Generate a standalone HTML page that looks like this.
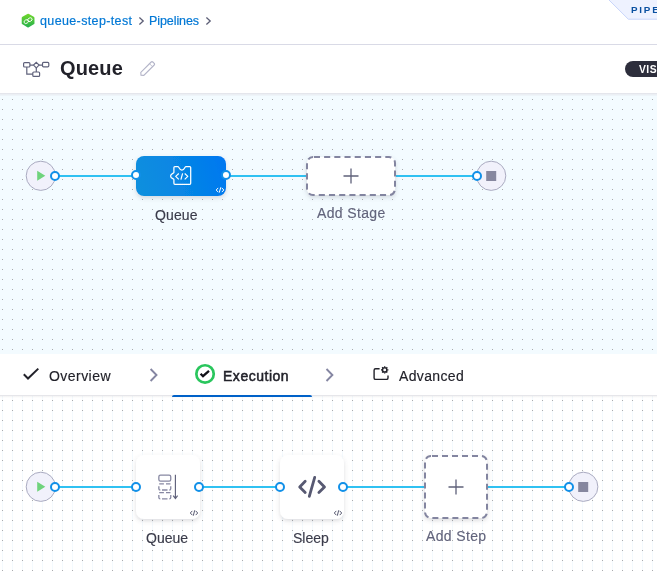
<!DOCTYPE html>
<html>
<head>
<meta charset="utf-8">
<style>
*{box-sizing:border-box;margin:0;padding:0}
html,body{width:657px;height:571px;overflow:hidden;background:#fff}
body{font-family:"Liberation Sans",sans-serif;position:relative;color:#22222a}
.abs{position:absolute}
.txt{position:absolute;white-space:nowrap;line-height:1;will-change:transform}
#c1{left:0;top:94px;width:657px;height:260px;background-color:#f3fbff;
 background-image:linear-gradient(#a9abb6,#a9abb6);background-size:1px 1px;background-repeat:no-repeat}
.dots{position:absolute;left:0;width:657px;background-image:radial-gradient(circle at 2.5px 5.5px,#a9aaad 0.62px,transparent 0.95px);background-size:10px 10px}
#hd{left:0;top:93px;width:657px;height:3px;background:linear-gradient(#e1e1e8,#ebeff4 50%,#f0f7fb)}
#c2{left:0;top:396px;width:657px;height:175px;background-color:#fff;
 background-image:linear-gradient(90deg,transparent 2px,#f4fafe 2px,#f4fafe 3px,transparent 3px);background-size:10px 10px}
.node{position:absolute;border-radius:8px}
.step{background:#fff;box-shadow:0 2px 5px rgba(96,97,112,.16),0 0 2px rgba(40,41,61,.08)}
.lbl{font-size:14px;color:#3a3b4a;-webkit-text-stroke:.15px #3a3b4a}
.lbl2{font-size:14px;color:#62647c;letter-spacing:.35px;-webkit-text-stroke:.15px #62647c}
</style>
</head>
<body>
<!-- header -->
<div class="abs" style="left:0;top:44px;width:657px;height:1px;background:#d9dae6"></div>
<svg class="abs" style="left:20.9px;top:13.1px" width="14.2" height="15.2" viewBox="0 0 14 15">
 <defs><linearGradient id="gg" x1="0" y1="0" x2="0" y2="1"><stop offset="0" stop-color="#73d82a"/><stop offset="1" stop-color="#25b04f"/></linearGradient></defs>
 <path d="M7 0.6 L12.6 3.8 Q13.3 4.2 13.3 5 L13.3 10 Q13.3 10.8 12.6 11.2 L7.7 14.1 Q7 14.5 6.3 14.1 L1.4 11.2 Q0.7 10.8 0.7 10 L0.7 5 Q0.7 4.2 1.4 3.8 L6.3 0.9 Q7 0.5 7.7 0.9Z" fill="url(#gg)"/>
 <g fill="none" stroke="#fff" stroke-width=".85"><ellipse cx="5.2" cy="8.5" rx="2.3" ry="1.7" transform="rotate(-28 5.2 8.5)"/><ellipse cx="8.8" cy="6.6" rx="2.3" ry="1.7" transform="rotate(-28 8.8 6.6)"/></g>
</svg>
<div class="txt" style="left:40px;top:14.6px;font-size:12.5px;color:#0278d5;letter-spacing:.37px;-webkit-text-stroke:.2px #0278d5">queue-step-test</div>
<svg class="abs" style="left:137px;top:15.3px" width="8" height="12" viewBox="0 0 8 12"><path d="M2.4 2.6 L6.2 6 L2.4 9.4" fill="none" stroke="#5b5d75" stroke-width="1.3"/></svg>
<div class="txt" style="left:149px;top:14.6px;font-size:12.5px;color:#0278d5;letter-spacing:-.08px;-webkit-text-stroke:.2px #0278d5">Pipelines</div>
<svg class="abs" style="left:204px;top:15.3px" width="8" height="12" viewBox="0 0 8 12"><path d="M2.4 2.6 L6.2 6 L2.4 9.4" fill="none" stroke="#5b5d75" stroke-width="1.3"/></svg>
<!-- PIPE tag -->
<svg class="abs" style="left:600px;top:0" width="57" height="22" viewBox="0 0 57 22">
 <path d="M8 -1 L28.3 19.2 L58 19.2 L58 -1Z" fill="#eef2ff" stroke="#c9d5fa" stroke-width="1"/>
</svg>
<div class="txt" style="left:630.9px;top:5.1px;font-size:9.8px;font-weight:bold;color:#0a51a1;letter-spacing:1.78px">PIPELINE</div>
<!-- title -->
<svg class="abs" style="left:22px;top:60.3px" width="29" height="19" viewBox="22 60 29 19" fill="none" stroke="#5f617b" stroke-width="1.2">
 <rect x="23.6" y="62.6" width="6.3" height="4.4" rx="1"/>
 <rect x="42.5" y="62.4" width="6.3" height="4.4" rx="1"/>
 <rect x="32.8" y="72" width="6.8" height="4.4" rx="1"/>
 <path d="M36.3 62.3 L39.1 65.1 L36.3 67.9 L33.5 65.1Z"/>
 <path d="M29.9 65.1H33.5M39.1 65.1H42.5M36.3 67.9V72M26.8 67V74.2H32.8"/>
</svg>
<div class="txt" style="left:60.3px;top:58.1px;font-size:20px;font-weight:bold;color:#22222a;letter-spacing:.15px">Queue</div>
<svg class="abs" style="left:139px;top:60px" width="18" height="18" viewBox="139 60 18 18" fill="none" stroke="#b3b4c8" stroke-width="1.1">
 <path d="M141 75.3 L140.8 72.4 L151.2 62 Q152 61.2 152.8 62 L154.2 63.4 Q155 64.2 154.2 65 L143.8 75.4Z"/>
 <path d="M149.6 63.8 L152.4 66.6" stroke-width=".8"/>
</svg>
<div class="abs" style="left:625.3px;top:60.7px;width:40px;height:16.3px;border-radius:8.2px;background:#2d2e3c"></div>
<div class="txt" style="left:639.1px;top:64.7px;font-size:10.3px;font-weight:bold;color:#fff;letter-spacing:.5px">VISUAL</div>

<!-- canvas 1 -->
<div class="abs" id="c1"></div>
<div class="dots" style="top:94px;height:260px;background-position:0 0"></div>
<div class="abs" id="hd"></div>

<!-- tabs -->
<div class="abs" style="left:0;top:354px;width:657px;height:42px;background:#fff"></div>
<div class="abs" style="left:0;top:395px;width:657px;height:1px;background:#e6e6ea"></div>
<div class="abs" id="c2"></div>
<div class="dots" style="top:396px;height:175px;background-position:0 -1px"></div>
<div class="abs" style="left:0;top:396px;width:657px;height:2px;background:linear-gradient(rgba(0,0,0,.05),rgba(0,0,0,0))"></div>
<div class="abs" style="left:172px;top:395px;width:140px;height:2px;border-radius:2px 2px 0 0;background:#0061c8"></div>

<svg class="abs" style="left:20px;top:364px" width="22" height="20" viewBox="20 364 22 20" fill="none" stroke="#22222a" stroke-width="2"><path d="M23.8 374.3 L28 378.5 L38.3 368.6"/></svg>
<div class="txt" style="left:49px;top:368.5px;font-size:14px;color:#22222a;letter-spacing:.45px;-webkit-text-stroke:.15px #22222a">Overview</div>
<svg class="abs" style="left:148px;top:366px" width="12" height="18" viewBox="148 366 12 18" fill="none" stroke="#8586a2" stroke-width="1.9"><path d="M150.6 369 L156.5 375 L150.6 381"/></svg>
<svg class="abs" style="left:193px;top:362px" width="24" height="24" viewBox="193 362 24 24" fill="none"><circle cx="205.05" cy="373.95" r="8.7" stroke="#2ac65d" stroke-width="2.7"/><path d="M200.6 373.7 L203 376.2 L209 370.8" stroke="#111118" stroke-width="2.3"/></svg>
<div class="txt" style="left:222.7px;top:368.5px;font-size:14px;color:#22222a;letter-spacing:.52px;-webkit-text-stroke:.5px #22222a">Execution</div>
<svg class="abs" style="left:324px;top:366px" width="12" height="18" viewBox="324 366 12 18" fill="none" stroke="#8586a2" stroke-width="1.9"><path d="M326.5 369 L332.4 375 L326.5 381"/></svg>
<svg class="abs" style="left:370px;top:362px" width="22" height="22" viewBox="370 362 22 22" fill="none" stroke="#22222a" stroke-width="1.4">
 <path d="M379.6 368.7 H375.6 Q374.1 368.7 374.1 370.2 V377.9 Q374.1 379.4 375.6 379.4 H386.5 Q388 379.4 388 377.9 V375.4"/>
 <circle cx="384.7" cy="369.9" r="2.2" stroke-width="1.5"/>
 <g stroke-width="1.3"><path d="M384.7 366.2V367.3M384.7 372.5V373.6M381 369.9H382.1M387.3 369.9H388.4M382.1 367.3L382.9 368.1M386.5 371.7L387.3 372.5M382.1 372.5L382.9 371.7M386.5 368.1L387.3 367.3"/></g>
</svg>
<div class="txt" style="left:399px;top:368.5px;font-size:14px;color:#22222a;letter-spacing:.35px;-webkit-text-stroke:.15px #22222a">Advanced</div>

<!-- graph svg -->
<svg class="abs" style="left:0;top:0" width="657" height="571" viewBox="0 0 657 571">
 <defs>
  <linearGradient id="bg1" gradientUnits="userSpaceOnUse" x1="140" y1="190" x2="226" y2="160"><stop offset="0" stop-color="#0b8fde"/><stop offset=".55" stop-color="#0684e6"/><stop offset="1" stop-color="#0277f1"/></linearGradient>
  <filter id="sh" x="-20%" y="-20%" width="140%" height="160%"><feDropShadow dx="0" dy="2" stdDeviation="2" flood-color="#606170" flood-opacity=".22"/></filter>
 </defs>
 <!-- top lines -->
 <g stroke="#2fc1f2" stroke-width="2">
  <path d="M59 176H136M226 176H306M396 176H473"/>
  <path d="M59 487H136M200 487H280M344 487H424M488 487H565"/>
 </g>
 <!-- start/end circles -->
 <g fill="#f1f1fb" stroke="#a9aac0" stroke-width="1">
  <circle cx="40.8" cy="175.8" r="14.6"/><circle cx="491.2" cy="175.8" r="14.6"/>
  <circle cx="40.8" cy="486.8" r="14.6"/><circle cx="583.3" cy="486.8" r="14.6"/>
 </g>
 <path d="M37.2 170.8 L45.3 175.8 L37.2 180.8Z M37.2 481.8 L45.3 486.8 L37.2 491.8Z" fill="#6fd37c"/>
 <rect x="486.2" y="171" width="10" height="10" fill="#86879f"/>
 <rect x="578.2" y="482" width="10" height="10" fill="#86879f"/>
 <!-- stage node -->
 <rect x="136" y="156" width="90" height="40" rx="8" fill="url(#bg1)" filter="url(#sh)"/>
 <rect x="307" y="157" width="88" height="38" rx="6" fill="#fff" stroke="#8385a0" stroke-width="2" stroke-dasharray="6.1 4.1" stroke-dashoffset="-0.9" filter="url(#sh)"/>
 <path d="M343.5 176H358.5M351 168.5V183.5" stroke="#5f617a" stroke-width="1.3"/>
 <!-- stage icon -->
 <g fill="none" stroke="#fff" stroke-width="1.25" stroke-linejoin="round">
  <path d="M174.9 166.6 H178 C179.2 166.6 179 170.1 181.9 170.1 C184.8 170.1 184.6 166.6 185.8 166.6 H189.7 Q190.7 166.6 190.7 167.6 V183.3 Q190.7 184.3 189.7 184.3 H174.9 Q173.9 184.3 173.9 183.3 V179.6 C173.9 178.5 170.6 178.8 170.6 176 C170.6 173.2 173.9 173.5 173.9 172.4 V167.6 Q173.9 166.6 174.9 166.6Z"/>
  <path d="M178.8 173.5 L175.7 176.4 L178.8 179.4 M184.7 173.5 L187.8 176.4 L184.7 179.4 M182.6 173.3 L180.9 179.7" stroke-width="1.2"/>
 </g>
 <g fill="none" stroke="#fff" stroke-width="1"><path d="M218.2 187.9 L216.2 190 L218.2 192.1M221.8 187.9 L223.8 190 L221.8 192.1M220.8 187.3 L219.2 192.7"/></g>
 <!-- step nodes -->
 <g filter="url(#sh)"><rect x="136" y="455" width="64" height="64" rx="8" fill="#fff"/><rect x="280" y="455" width="64" height="64" rx="8" fill="#fff"/></g>
 <rect x="425" y="456" width="62" height="62" rx="6" fill="#fff" stroke="#8385a0" stroke-width="2" stroke-dasharray="6 4" stroke-dashoffset="-1" filter="url(#sh)"/>
 <path d="M448.5 487H463.5M456 479.5V494.5" stroke="#5f617a" stroke-width="1.3"/>
 <!-- queue step icon -->
 <g fill="none" stroke="#8788a2" stroke-width="1.3">
  <rect x="158.85" y="475.05" width="11.9" height="6" rx="1.6"/>
  <path d="M159.2 483.8H163.9M166 483.8H170.5M158.85 486.3V488.7Q158.85 490 160.3 490M162 490H167.5M170.75 486.3V488.7Q170.75 490 169.3 490"/>
  <path d="M159.2 492.6H163.9M166 492.6H170.5M158.85 495.1V497.5Q158.85 498.8 160.3 498.8M162 498.8H167.5M170.75 495.1V497.5Q170.75 498.8 169.3 498.8"/>
  <path d="M175.4 474.8V498.4M173.2 495.6 L175.4 498.6 L177.6 495.6" stroke="#5f617a" stroke-width="1.15"/>
 </g>
 <!-- sleep icon -->
 <g fill="none" stroke="#575972" stroke-width="2.8" stroke-linecap="round" stroke-linejoin="round">
  <path d="M305.2 481.3 L299.7 486.9 L305.2 492.5M318.9 481.3 L324.5 486.9 L318.9 492.5M314.7 477.4 L309.3 496.4"/>
 </g>
 <g fill="none" stroke="#55576f" stroke-width="1">
  <path d="M192.3 510.9 L190.3 513 L192.3 515.1M195.7 510.9 L197.7 513 L195.7 515.1M194.7 510.3 L193.3 515.7"/>
  <path d="M336.3 510.9 L334.3 513 L336.3 515.1M339.7 510.9 L341.7 513 L339.7 515.1M338.7 510.3 L337.3 515.7"/>
 </g>
 <!-- ports -->
 <g fill="#fff" stroke="#1190e8" stroke-width="2">
  <circle cx="55" cy="176" r="4"/><circle cx="136" cy="175" r="4"/><circle cx="226" cy="175" r="4"/><circle cx="477" cy="176" r="4"/>
  <circle cx="55" cy="487" r="4"/><circle cx="136" cy="487" r="4"/><circle cx="199" cy="487" r="4"/><circle cx="280" cy="487" r="4"/><circle cx="343" cy="487" r="4"/><circle cx="569" cy="487" r="4"/>
 </g>
</svg>
<div class="txt lbl" style="left:154.7px;top:207.5px;letter-spacing:.1px">Queue</div>
<div class="txt lbl2" style="left:316.5px;top:205.5px">Add Stage</div>
<div class="txt lbl" style="left:145.5px;top:530.5px">Queue</div>
<div class="txt lbl" style="left:292.5px;top:530.5px">Sleep</div>
<div class="txt lbl2" style="left:425.5px;top:528.5px">Add Step</div>
</body>
</html>
